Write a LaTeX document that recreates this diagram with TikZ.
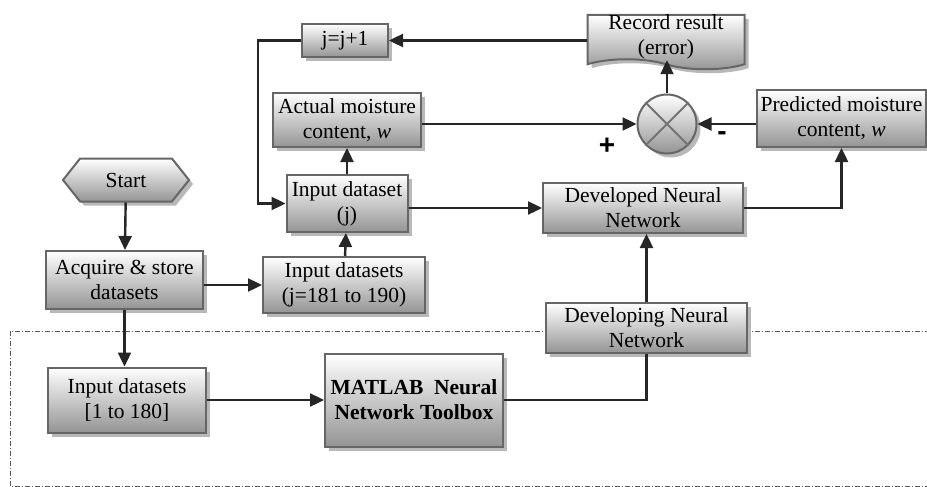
\documentclass[tikz,border=0pt]{standalone}
\usepackage{fontspec}
\setmainfont{Liberation Serif}
\newfontfamily\signfont{Liberation Sans}
\usetikzlibrary{arrows.meta,shapes.symbols,shadows}

\tikzset{
  blk/.style={draw=black!60, line width=2pt, top color=white, bottom color=black!42,
    drop shadow={shadow xshift=4pt, shadow yshift=-4pt, fill=black!28, opacity=1},
    inner sep=0pt, align=center, font=\fontsize{21.5}{25}\selectfont},
  arr/.style={draw=black!85, line width=2.4pt, -{Triangle[length=14pt,width=13pt]}},
  lnk/.style={draw=black!85, line width=2.4pt},
  sign/.style={font=\signfont\bfseries\fontsize{28}{28}\selectfont, inner sep=0pt}
}

\begin{document}
\begin{tikzpicture}[x=1pt, y=-1pt]
\useasboundingbox (0,0) rectangle (927,487);

% training area
\draw[black!65, line width=1pt, dash pattern=on 5pt off 2pt on 1pt off 2pt] (10,331) rectangle (940,486);

\node[blk, signal, signal to=west and east, signal pointer angle=103, minimum width=126, minimum height=43] (start) at (126,180) {Start};
\node[blk, minimum width=157, minimum height=58] (acq) at (124.5,280) {Acquire \& store\\datasets};
\node[blk, minimum width=162, minimum height=56] (inr) at (344,285) {Input datasets\\(j=181 to 190)};
\node[blk, minimum width=121, minimum height=57] (inj) at (347,203.5) {Input dataset\\(j)};
\node[blk, minimum width=148, minimum height=54] (act) at (347,120) {Actual moisture\\content, \textit{w}};
\node[blk, minimum width=86, minimum height=33] (jj) at (345,40.5) {j=j+1};
\node[blk, tape, tape bend top=none, tape bend bottom=out and in, tape bend height=10pt, minimum width=157, minimum height=50] (rec) at (666,37) {Record result\\(error)};
\node[blk, circle, minimum size=59] (sum) at (667,124) {};
\draw[black!55, line width=1.8pt] (sum.45) -- (sum.225) (sum.135) -- (sum.-45);
\node[blk, minimum width=169, minimum height=57] (pre) at (841.5,118.5) {Predicted moisture\\content, \textit{w}};
\node[blk, minimum width=200, minimum height=50] (dvd) at (643,208) {Developed Neural\\Network};
\node[blk, minimum width=201, minimum height=50] (dvg) at (646.5,328) {Developing Neural\\Network};
\node[blk, minimum width=158, minimum height=65] (in180) at (127,400) {Input datasets\\{[}1 to 180{]}};
\node[blk, minimum width=178, minimum height=93, font=\fontsize{21.5}{25}\selectfont\bfseries] (mat) at (414,400) {MATLAB~~Neural\\Network Toolbox};

\node[sign] (plus) at (607,146) {+};
\node[sign] (minus) at (722,136) {-};

\coordinate (lp) at (258,0);

\draw[arr] (start) -- (acq);
\draw[arr] (acq.east |- inr.west) -- (inr.west);
\draw[arr] (acq.south) -- (acq.south |- in180.north);
\draw[arr] (in180) -- (mat);
\draw[lnk] (mat.east) -| (dvg.south);
\draw[arr] (dvg.north) -- (dvg.north |- dvd.south);
\draw[arr] (inr) -- (inj);
\draw[arr] (inj) -- (act);
\draw[arr] (inj.east |- dvd.west) -- (dvd.west);
\draw[arr] (dvd.east) -| (pre.south);
\draw[arr] (act.east |- sum.west) -- (sum.west);
\draw[arr] (pre.west |- sum.east) -- (sum.east);
\draw[arr] (sum.north) -- (sum.north |- rec.south);
\draw[arr] (rec.west |- jj.east) -- (jj.east);
\draw[arr] (jj.west) -- (jj.west -| lp) |- (inj.west);
\end{tikzpicture}
\end{document}
